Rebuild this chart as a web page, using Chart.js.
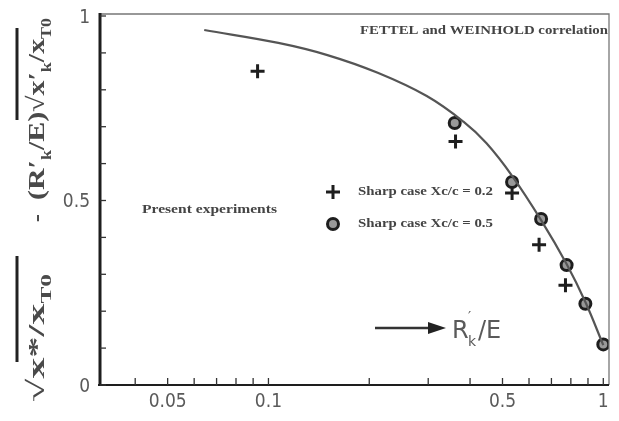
<!DOCTYPE html>
<html>
<head>
<meta charset="utf-8">
<script src="https://cdn.jsdelivr.net/npm/chart.js@4.4.1/dist/chart.umd.min.js"></script>
<style>
  html, body { margin: 0; padding: 0; background: #fff; }
  #wrap { width: 619px; height: 421px; }
</style>
</head>
<body>
<div id="wrap"><canvas id="chart" width="619" height="421"></canvas></div>
<script>
// ---- data ----
const curveX = [0.0643, 0.107, 0.150, 0.212, 0.297, 0.383, 0.448, 0.534, 0.652, 0.777, 0.884, 1.0];
const curveY = [0.962, 0.927, 0.894, 0.846, 0.783, 0.713, 0.655, 0.567, 0.447, 0.328, 0.225, 0.108];

const sharp02X = [0.0928, 0.362, 0.534, 0.643, 0.771];
const sharp02Y = [0.85, 0.66, 0.52, 0.38, 0.27];

const sharp05X = [0.360, 0.534, 0.652, 0.777, 0.884, 1.0];
const sharp05Y = [0.71, 0.55, 0.45, 0.325, 0.22, 0.11];

const xTickLabels = [0.05, 0.1, 0.5, 1];
const xMinorTicks = [0.04, 0.05, 0.06, 0.07, 0.08, 0.09, 0.1, 0.2, 0.3, 0.4, 0.5, 0.6, 0.7, 0.8, 0.9, 1];
const yTickLabels = [0, 0.5, 1];
const yMinorTicks = [0, 0.1, 0.2, 0.3, 0.4, 0.5, 0.6, 0.7, 0.8, 0.9, 1];

const legendLabels = ['Sharp case Xc/c = 0.2', 'Sharp case Xc/c = 0.5'];
const noteText = 'Present experiments';
const corrText = 'FETTEL and WEINHOLD correlation';

const toPoints = (xs, ys) => xs.map((x, i) => ({ x: x, y: ys[i] }));

const INK = '#1e1e1e';
const GREY = '#5a5a5a';
const SERIF = '"Liberation Serif", serif';

// text squeezed/stretched to a given width (scan lettering is wide)
function fitText(ctx, text, x, y, width, size) {
    ctx.save();
    ctx.font = `bold ${size}px ${SERIF}`;
    const w = ctx.measureText(text).width;
    ctx.translate(x, y);
    ctx.scale(width / w, 1);
    ctx.fillText(text, 0, 0);
    ctx.restore();
}

// text made of pieces (some subscript), fitted to width
function drawRich(ctx, parts, x, y, size, width) {
    const widths = parts.map(p => {
        ctx.font = `bold ${p.sub ? size * 0.6 : size}px ${SERIF}`;
        return ctx.measureText(p.t).width;
    });
    const total = widths.reduce((s, w) => s + w, 0);
    ctx.save();
    ctx.translate(x, y);
    ctx.scale(width / total, 1);
    let cx = 0;
    parts.forEach((p, i) => {
        ctx.font = `bold ${p.sub ? size * 0.6 : size}px ${SERIF}`;
        ctx.fillText(p.t, cx, p.sub ? size * 0.28 : 0);
        cx += widths[i];
    });
    ctx.restore();
}

const framePlugin = {
    id: 'frame',
    afterDraw(chart) {
        const ctx = chart.ctx;
        const a = chart.chartArea;
        const xs = chart.scales.x;
        const ys = chart.scales.y;
        ctx.save();

        // frame
        ctx.strokeStyle = '#777';
        ctx.lineWidth = 1.3;
        ctx.beginPath();
        ctx.moveTo(a.left, a.top - 2);
        ctx.lineTo(a.right, a.top - 2);
        ctx.lineTo(a.right, a.bottom);
        ctx.stroke();

        ctx.strokeStyle = INK;
        ctx.lineWidth = 3;
        ctx.beginPath();
        ctx.moveTo(a.left, a.top - 3);
        ctx.lineTo(a.left, a.bottom + 1);
        ctx.stroke();
        ctx.lineWidth = 2.2;
        ctx.beginPath();
        ctx.moveTo(a.left - 2, a.bottom);
        ctx.lineTo(a.right, a.bottom);
        ctx.stroke();

        // inward ticks
        ctx.lineWidth = 1.3;
        ctx.strokeStyle = '#333';
        xMinorTicks.forEach(v => {
            const px = xs.getPixelForValue(v);
            ctx.beginPath();
            ctx.moveTo(px, a.bottom);
            ctx.lineTo(px, a.bottom - 7);
            ctx.stroke();
        });
        yMinorTicks.forEach(v => {
            const py = ys.getPixelForValue(v);
            ctx.beginPath();
            ctx.moveTo(a.left, py);
            ctx.lineTo(a.left + 6, py);
            ctx.stroke();
        });

        // tick labels
        ctx.fillStyle = GREY;
        ctx.font = '19px "Liberation Sans Narrow", "DejaVu Sans Condensed", sans-serif';
        ctx.textAlign = 'center';
        ctx.textBaseline = 'top';
        xTickLabels.forEach(v => {
            ctx.fillText(String(v), xs.getPixelForValue(v), a.bottom + 8);
        });
        ctx.textAlign = 'right';
        ctx.textBaseline = 'middle';
        yTickLabels.forEach(v => {
            ctx.fillText(String(v), a.left - 10, ys.getPixelForValue(v) + 2);
        });

        // notes
        ctx.fillStyle = '#444';
        ctx.textAlign = 'left';
        ctx.textBaseline = 'middle';
        fitText(ctx, corrText, 360, 31, 248, 12);
        fitText(ctx, noteText, 142, 210, 135, 12);

        // legend
        const lx = 333;
        const ly = [192, 224];
        ctx.strokeStyle = INK;
        ctx.lineWidth = 3;
        ctx.beginPath();
        ctx.moveTo(lx - 7, ly[0]); ctx.lineTo(lx + 7, ly[0]);
        ctx.moveTo(lx, ly[0] - 7); ctx.lineTo(lx, ly[0] + 7);
        ctx.stroke();
        ctx.fillStyle = '#999';
        ctx.beginPath();
        ctx.arc(lx, ly[1], 5.5, 0, Math.PI * 2);
        ctx.fill();
        ctx.stroke();
        ctx.fillStyle = '#444';
        fitText(ctx, legendLabels[0], 358, ly[0], 135, 12);
        fitText(ctx, legendLabels[1], 358, ly[1], 135, 12);

        // arrow + R'k/E
        ctx.strokeStyle = '#333';
        ctx.lineWidth = 2.5;
        ctx.beginPath();
        ctx.moveTo(375, 328);
        ctx.lineTo(432, 328);
        ctx.stroke();
        ctx.fillStyle = '#222';
        ctx.beginPath();
        ctx.moveTo(446, 328);
        ctx.lineTo(428, 322);
        ctx.lineTo(428, 334);
        ctx.closePath();
        ctx.fill();
        ctx.fillStyle = GREY;
        ctx.font = '24px "DejaVu Sans", sans-serif';
        ctx.textBaseline = 'alphabetic';
        ctx.fillText('R', 452, 338);
        ctx.font = '14px "DejaVu Sans", sans-serif';
        ctx.fillText('\u2032', 468, 321);
        ctx.fillText('k', 468, 346);
        ctx.font = '24px "DejaVu Sans", sans-serif';
        ctx.fillText('/E', 478, 338);

        // rotated y title (reads bottom to top)
        ctx.save();
        ctx.translate(44, 402);
        ctx.rotate(-Math.PI / 2);
        ctx.fillStyle = '#4a4a4a';
        ctx.strokeStyle = '#222';
        ctx.textBaseline = 'alphabetic';
        drawRich(ctx, [
            { t: '\u221A' },
            { t: 'x*/x' },
            { t: 'T0', sub: true }
        ], 0, 0, 24, 128);
        ctx.lineWidth = 3;
        ctx.beginPath();
        ctx.moveTo(40, -27); ctx.lineTo(146, -27);
        ctx.stroke();
        ctx.font = `bold 24px ${SERIF}`;
        ctx.fillText('-', 180, 0);
        drawRich(ctx, [
            { t: '(R\u2032' },
            { t: 'k', sub: true },
            { t: '/E)\u221A' },
            { t: 'x\u2032' },
            { t: 'k', sub: true },
            { t: '/x' },
            { t: 'T0', sub: true }
        ], 202, 0, 24, 182);
        ctx.beginPath();
        ctx.moveTo(282, -27); ctx.lineTo(374, -27);
        ctx.stroke();
        ctx.restore();

        ctx.restore();
    }
};

const whiteBg = {
    id: 'whiteBg',
    beforeDraw(chart) {
        const ctx = chart.ctx;
        ctx.save();
        ctx.fillStyle = '#fff';
        ctx.fillRect(0, 0, chart.width, chart.height);
        ctx.restore();
    }
};

new Chart(document.getElementById('chart'), {
    type: 'scatter',
    data: {
        datasets: [
            {
                label: 'correlation',
                type: 'line',
                data: toPoints(curveX, curveY),
                borderColor: '#555',
                borderWidth: 2.2,
                pointRadius: 0,
                tension: 0.4,
                fill: false
            },
            {
                label: legendLabels[0],
                data: toPoints(sharp02X, sharp02Y),
                pointStyle: 'cross',
                pointRadius: 7,
                borderWidth: 3,
                borderColor: INK
            },
            {
                label: legendLabels[1],
                data: toPoints(sharp05X, sharp05Y),
                pointStyle: 'circle',
                pointRadius: 5.5,
                borderWidth: 3,
                borderColor: INK,
                backgroundColor: '#999'
            }
        ]
    },
    options: {
        responsive: false,
        animation: false,
        layout: { padding: { left: 100, top: 16, right: 5, bottom: 36 } },
        plugins: {
            legend: { display: false },
            tooltip: { enabled: false }
        },
        scales: {
            x: { type: 'logarithmic', min: 0.0314, max: 1.04, display: false },
            y: { type: 'linear', min: 0, max: 1, display: false }
        }
    },
    plugins: [whiteBg, framePlugin]
});
</script>
</body>
</html>
